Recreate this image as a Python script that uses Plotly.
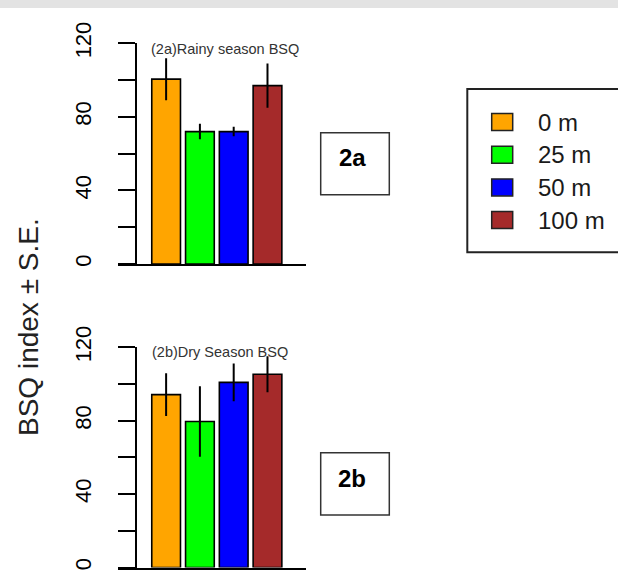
import plotly.graph_objects as go

# ---- data ----
categories = ["0 m", "25 m", "50 m", "100 m"]
colors = ["#FFA500", "#00FF00", "#0000FF", "#A52A2A"]
rainy_mean = [100.5, 72.0, 72.0, 97.0]
rainy_se = [11.4, 4.2, 2.6, 12.0]
dry_mean = [94.2, 79.6, 100.9, 105.3]
dry_se = [11.6, 19.2, 10.3, 9.8]
y_tickvals = [0, 20, 40, 60, 80, 100, 120]
y_ticktext = ["0", "", "40", "", "80", "", "120"]
panel_titles = ["(2a)Rainy season BSQ", "(2b)Dry Season BSQ"]
panel_tags = ["2a", "2b"]
y_title = "BSQ index \u00b1 S.E."

W, H = 618, 575
FONT = "Liberation Sans, Arial, sans-serif"


def px(x):
    return x / W


def py(y):
    return 1 - y / H


fig = go.Figure()

panels = [
    dict(mean=rainy_mean, se=rainy_se, xa="x", ya="y"),
    dict(mean=dry_mean, se=dry_se, xa="x2", ya="y2"),
]

for p in panels:
    fig.add_trace(go.Bar(
        x=categories, y=p["mean"],
        marker=dict(color=colors, line=dict(color="black", width=1.6)),
        width=0.85,
        error_y=dict(type="data", array=p["se"], symmetric=True,
                     color="black", thickness=2, width=0),
        xaxis=p["xa"], yaxis=p["ya"], showlegend=False, hoverinfo="skip",
    ))

xdom = [px(118), px(305.5)]
xrange = [-1.424, 4.125]
yaxis_common = dict(
    range=[0, 120], anchor="free", position=px(135.5),
    showline=True, linecolor="black", linewidth=2,
    ticks="outside", ticklen=17, tickwidth=2, tickcolor="black",
    tickmode="array", tickvals=y_tickvals, ticktext=y_ticktext,
    tickangle=-90, tickfont=dict(family=FONT, size=22, color="black"),
    ticklabelstandoff=18, automargin=False,
    showgrid=False, zeroline=False, fixedrange=True,
)
xaxis_common = dict(
    domain=xdom, range=xrange, showline=True, linecolor="black", linewidth=2,
    showticklabels=False, ticks="", showgrid=False, zeroline=False,
    automargin=False, fixedrange=True,
)

fig.update_layout(
    width=W, height=H,
    margin=dict(l=0, r=0, t=0, b=0, autoexpand=False),
    paper_bgcolor="white", plot_bgcolor="rgba(0,0,0,0)",
    xaxis=dict(anchor="y", **xaxis_common),
    xaxis2=dict(anchor="y2", **xaxis_common),
    yaxis=dict(domain=[py(264.0), py(43.3)], **yaxis_common),
    yaxis2=dict(domain=[py(567.5), py(347.3)], **yaxis_common),
    bargap=0.15,
)

shapes = []
annotations = []

# top gray band
shapes.append(dict(type="rect", xref="paper", yref="paper",
                   x0=0, x1=1, y0=py(8), y1=1,
                   fillcolor="#e3e3e3", line=dict(width=0), layer="above"))

# panel titles
for t, (cx, cy) in zip(panel_titles, [(225, 48.5), (219.5, 351.7)]):
    annotations.append(dict(text=t, xref="paper", yref="paper",
                            x=px(cx), y=py(cy), showarrow=False,
                            xanchor="center", yanchor="middle",
                            font=dict(family=FONT, size=14.5, color="#333333")))

# tag boxes
for tag, (x0, y0, x1, y1, ty) in zip(panel_tags, [(320.7, 132.7, 389.3, 194.7, 157.5),
                                                  (320.7, 452.7, 389.3, 515.0, 478.0)]):
    shapes.append(dict(type="rect", xref="paper", yref="paper",
                       x0=px(x0), x1=px(x1), y0=py(y1), y1=py(y0),
                       line=dict(color="#333333", width=1.5), fillcolor="white"))
    annotations.append(dict(text="<b>%s</b>" % tag, xref="paper", yref="paper",
                            x=px(352), y=py(ty), showarrow=False,
                            xanchor="center", yanchor="middle",
                            font=dict(family=FONT, size=24, color="black")))

# y-axis title
annotations.append(dict(text=y_title, xref="paper", yref="paper",
                        x=px(28), y=py(327), showarrow=False, textangle=-90,
                        xanchor="center", yanchor="middle",
                        font=dict(family=FONT, size=28, color="#222222")))

# legend (manual)
shapes.append(dict(type="rect", xref="paper", yref="paper",
                   x0=px(467.3), x1=px(640), y0=py(252.3), y1=py(89),
                   line=dict(color="#222222", width=2), fillcolor="white"))
row_y0 = 122.0
row_step = 32.7
for i, (lab, col) in enumerate(zip(categories, colors)):
    cy = row_y0 + i * row_step
    shapes.append(dict(type="rect", xref="paper", yref="paper",
                       x0=px(491.7), x1=px(512.7), y0=py(cy + 8.5), y1=py(cy - 8.5),
                       fillcolor=col, line=dict(color="#222222", width=1.5)))
    annotations.append(dict(text=lab, xref="paper", yref="paper",
                            x=px(536), y=py(cy), showarrow=False,
                            xanchor="left", yanchor="middle",
                            font=dict(family=FONT, size=24, color="#1a1a1a")))

fig.update_layout(shapes=shapes, annotations=annotations)

post = ("document.documentElement.style.margin='0';"
        "document.documentElement.style.padding='0';"
        "document.documentElement.style.overflow='hidden';"
        "document.body.style.margin='0';"
        "document.body.style.padding='0';"
        "document.body.style.overflow='hidden';")
fig.write_html("out.html", post_script=post,
               config={"responsive": False, "displayModeBar": False})
